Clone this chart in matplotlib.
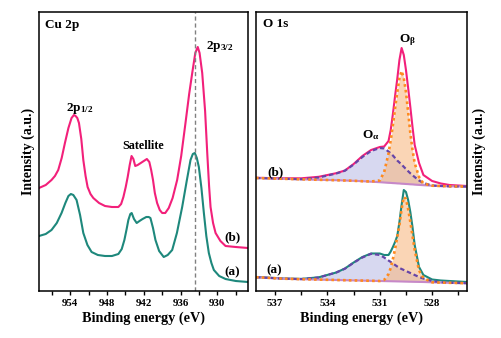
import numpy as np
import matplotlib
matplotlib.use("Agg")
from matplotlib import pyplot as plt

plt.rcParams['font.family'] = ['Liberation Serif', 'DejaVu Serif']
plt.rcParams['font.weight'] = 'bold'
plt.rcParams['axes.labelweight'] = 'bold'
plt.rcParams['mathtext.default'] = 'regular'

# ---- Cu 2p spectra (binding energy eV, intensity a.u.)
cu_e_b = [959.1, 958.0, 957.06, 956.5, 955.96, 955.4, 954.87, 954.3, 953.79, 953.4,
          953.13, 952.85, 952.58, 952.2, 951.87, 951.5, 951.17, 950.7, 950.24, 949.3,
          948.33, 947.2, 946.15, 945.7, 945.33, 944.95, 944.63, 944.3, 944.0, 943.7,
          943.4, 943.0, 942.5, 942.0, 941.5, 941.1, 940.8, 940.5, 940.2, 939.83,
          939.4, 939.0, 938.5, 937.93, 937.3, 936.56, 935.9, 935.2, 934.6, 934.1,
          933.6, 933.2, 932.9, 932.47, 932.0, 931.65, 931.35, 931.11, 930.7, 930.29,
          929.5, 928.66, 927.0, 925.0]
cu_i_b = [103, 106, 111, 115, 121, 133, 148, 163, 173, 176,
          175, 173, 168, 152, 131, 115, 104, 97, 93, 88,
          85, 84, 84, 87, 94, 104, 114, 126, 135, 132,
          125, 126, 128, 130, 132, 129, 121, 111, 98, 88,
          81, 78, 78, 83, 93, 111, 135, 168, 197, 218,
          238, 244, 238, 218, 180, 138, 105, 84, 68, 58,
          50, 45, 44, 43]

cu_e_a = [959.1, 958.0, 957.06, 956.2, 955.42, 954.8, 954.3, 953.9, 953.5, 952.97,
          952.4, 951.87, 951.2, 950.52, 949.5, 948.33, 947.2, 946.15, 945.6, 945.17,
          944.8, 944.52, 944.2, 943.98, 943.6, 943.16, 942.7, 942.2, 941.6, 941.2,
          940.92, 940.5, 940.1, 939.5, 938.75, 938.1, 937.37, 936.6, 935.74, 935.0,
          934.38, 934.0, 933.68, 933.35, 933.02, 932.6, 932.2, 931.8, 931.39, 930.97,
          930.57, 929.7, 928.66, 927.0, 925.0]
cu_i_a = [55, 57, 61, 68, 78, 88, 95, 97, 96, 91,
          76, 58, 46, 39, 36, 35, 35, 37, 42, 51,
          62, 71, 77, 78, 72, 68, 70, 72, 74, 74,
          73, 63, 51, 40, 34, 36, 41, 58, 84, 110,
          131, 137, 138, 133, 124, 103, 78, 55, 38, 28,
          21, 15, 12, 10, 9]

cu_line = 933.7

# ---- O 1s spectra and fitted components
o_e = [538.1, 536.5, 535.5, 534.5, 533.5, 533.0, 532.5, 532.0, 531.5, 531.0,
       530.75, 530.5, 530.375, 530.25, 530.125, 530.0, 529.875, 529.75, 529.625, 529.5,
       529.375, 529.25, 529.125, 529.0, 528.75, 528.5, 528.0, 527.5, 527.0, 526.0]

o_env_b = [113.2, 112.7, 112.7, 114.2, 117.8, 120.5, 127, 135, 141, 144,
           144.5, 150, 161, 177, 195, 212, 231, 243, 236, 221,
           203, 184, 164, 146, 128, 116, 110, 107.5, 106, 105]
o_base_b = [113, 112.2, 111.7, 111.2, 110.8, 110.5, 110.2, 109.8, 109.3, 108.8,
            108.5, 108.2, 108.1, 107.9, 107.8, 107.6, 107.5, 107.3, 107.2, 107,
            106.9, 106.7, 106.6, 106.4, 106.1, 105.8, 105.3, 105, 104.7, 104.4]
o_alpha_b = [113, 112.2, 111.8, 113.5, 117.5, 120.3, 126.5, 134, 140, 143,
             142.5, 139.5, 137.5, 135.5, 133, 130.5, 128.5, 126.5, 124.2, 122,
             119.8, 117.7, 115.8, 114, 110.5, 108, 105.5, 105, 104.7, 104.4]
o_beta_b = [113, 112.2, 111.7, 111.2, 110.8, 110.5, 110.2, 109.8, 109.5, 110.5,
            119, 137.5, 151, 166, 183, 199, 213, 220, 213, 199,
            179, 158, 141, 128, 114, 107.5, 105.3, 105, 104.7, 104.4]

o_env_a = [14, 12.5, 12.1, 13.7, 18.5, 22.5, 28.5, 34, 37.5, 37.5,
           36, 36, 39.5, 44, 49, 55, 69, 86, 101, 99,
           91, 79, 64, 46, 24, 16, 11.5, 10.5, 10, 9]
o_base_a = [13.8, 12.3, 11.8, 11.4, 11, 10.8, 10.6, 10.4, 10.2, 10,
            9.9, 9.8, 9.75, 9.7, 9.65, 9.6, 9.55, 9.5, 9.45, 9.4,
            9.35, 9.3, 9.25, 9.2, 9.1, 9, 8.7, 8.4, 8.2, 7.8]
o_alpha_a = [13.8, 12.3, 11.9, 13.5, 18.5, 22.3, 28.3, 33.5, 37.2, 36,
             33.5, 30.5, 29, 27.5, 26, 24.5, 23, 22, 21, 20,
             19, 18, 17, 16, 14, 12.5, 10, 8.8, 8.2, 7.8]
o_beta_a = [13.8, 12.3, 11.8, 11.4, 11, 10.8, 10.6, 10.4, 10.2, 10,
            11, 17, 23, 32, 42, 54, 66, 82, 94, 92,
            82, 69, 55, 41, 20.5, 13, 8.7, 8.4, 8.2, 7.8]

pink = '#f2207a'
teal = '#1e887c'
purple = '#6645a8'
orange = '#ff8a1e'
basec = '#c688c8'

fig = plt.figure(figsize=(5.02, 3.38), dpi=100)
ax1 = fig.add_axes([39/502, 47/338, 209/502, 279/338])
ax2 = fig.add_axes([256/502, 47/338, 211/502, 279/338])

# Cu 2p panel
ax1.plot(cu_e_b, cu_i_b, color=pink, lw=1.5)
ax1.plot(cu_e_a, cu_i_a, color=teal, lw=1.5)
ax1.axvline(cu_line, color='gray', lw=1, ls=(0, (3, 2)))
ax1.set_xlim(959.1, 925)
ax1.set_xticks([954, 948, 942, 936, 930])
ax1.set_xticks([957, 951, 945, 939, 933, 927], minor=True)
ax1.set_ylabel('Intensity (a.u.)', fontsize=10, labelpad=3)
ax1.text(0.029, 0.953, 'Cu 2p', transform=ax1.transAxes, fontsize=9.5, va='center', ha='left')
ax1.text(952.45, 182, '2p$_{1/2}$', fontsize=9.5, ha='center', va='center')
ax1.text(942.15, 145, 'Satellite', fontsize=8.7, ha='center', va='center')
ax1.text(929.56, 245, '2p$_{3/2}$', fontsize=9.5, ha='center', va='center')
ax1.text(927.5, 54, '(b)', fontsize=9.5, ha='center', va='center')
ax1.text(927.6, 19, '(a)', fontsize=9.5, ha='center', va='center')

# O 1s panel
for env, base, oa, ob, col in [(o_env_b, o_base_b, o_alpha_b, o_beta_b, pink),
                               (o_env_a, o_base_a, o_alpha_a, o_beta_a, teal)]:
    ax2.fill_between(o_e, base, oa, color='#c2c3e8', alpha=0.65, lw=0)
    ax2.fill_between(o_e, base, ob, color='#f7b985', alpha=0.6, lw=0)
    ax2.plot(o_e, env, color=col, lw=1.5)
    ax2.plot(o_e, base, color=basec, lw=1.5)
    ax2.plot(o_e, oa, color=purple, lw=1.6, ls=(0, (2, 1.3)))
    ax2.plot(o_e, ob, color=orange, lw=1.9, ls=(0, (1, 1.2)))
ax2.set_xlim(538.1, 526)
ax2.set_xticks([537, 534, 531, 528])
ax2.set_xticks([535.5, 532.5, 529.5, 526.5], minor=True)
ax2.yaxis.set_label_position('right')
ax2.set_ylabel('Intensity (a.u.)', fontsize=10, labelpad=4)
ax2.text(0.033, 0.957, 'O 1s', transform=ax2.transAxes, fontsize=9.5, va='center', ha='left')
ax2.text(529.42, 250.5, r'O$_{\mathregular{β}}$', fontsize=9.5, ha='center', va='center')
ax2.text(531.51, 156, r'O$_{\mathregular{α}}$', fontsize=9.5, ha='center', va='center')
ax2.text(537.0, 119, '(b)', fontsize=9.5, ha='center', va='center')
ax2.text(537.06, 21, '(a)', fontsize=9.5, ha='center', va='center')

for ax in (ax1, ax2):
    ax.set_ylim(0, 279)
    ax.set_yticks([])
    ax.set_xlabel('Binding energy (eV)', fontsize=10.3, labelpad=2)
    ax.tick_params(axis='x', which='both', direction='out', length=3, width=1,
                   labelsize=7.8, pad=3, top=False)
    for lab in ax.get_xticklabels():
        lab.set_fontweight('bold')
    for s in ax.spines.values():
        s.set_linewidth(1.1)

fig.savefig('out.png', dpi=100)
